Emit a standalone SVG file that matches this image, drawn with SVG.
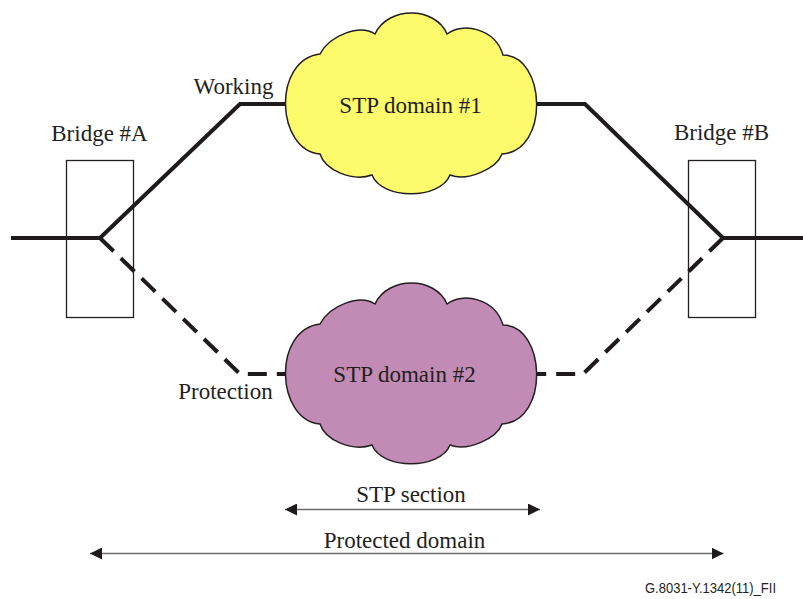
<svg xmlns="http://www.w3.org/2000/svg" width="803" height="599" viewBox="0 0 803 599">
  <style>
    .lbl { font-family: "Liberation Serif", "Times New Roman", serif; font-size: 23px; fill: #231f20; }
    .tag { font-family: "Liberation Sans", Arial, sans-serif; font-size: 14px; fill: #231f20; }
    .path-solid { fill: none; stroke: #1f1b1c; stroke-width: 4; stroke-linejoin: miter; }
    .path-dash { fill: none; stroke: #1f1b1c; stroke-width: 4; stroke-dasharray: 19 10; }
    .bridge { fill: none; stroke: #231f20; stroke-width: 1.3; }
    .cloud { stroke: #231f20; stroke-width: 1.5; }
    .span { stroke: #6d6d6d; stroke-width: 1.3; fill: none; }
  </style>
  <defs>
    <!-- cloud outline drawn at the lower (protection) position -->
    <path id="cloudShape" d="M320,324 C330,305 360,294 375,304 C388,276 435,276 447,304 C462,292 495,298 503,325 C546,325 550,421 502,424 C497,438 468,452 450,445 C440,470 382,470 372,445 C352,452 325,440 320,424 C276,420 272,330 320,324 Z"/>
    <marker id="arrowHead" viewBox="0 0 12 12" refX="12" refY="6" markerWidth="12" markerHeight="12" markerUnits="userSpaceOnUse" orient="auto-start-reverse">
      <path d="M0,0 L12,6 L0,12 Z" fill="#1f1b1c"/>
    </marker>
  </defs>

  <rect width="803" height="599" fill="#ffffff"/>

  <!-- connectors -->
  <g id="connectors">
    <path class="path-solid" d="M11,238 L100,238 L240,104 L290,104"/>
    <path class="path-solid" d="M532,104 L585,104 L723,238 L803,238"/>
    <path class="path-dash" d="M100,238 L240,374 L292,374"/>
    <path class="path-dash" d="M723,238 L583,374 L532,374"/>
  </g>

  <g id="bridgeA">
    <rect class="bridge" x="66.5" y="160.5" width="67" height="157"/>
    <text class="lbl" x="99.5" y="141" text-anchor="middle">Bridge #A</text>
  </g>

  <g id="bridgeB">
    <rect class="bridge" x="688.5" y="160.5" width="67" height="157"/>
    <text class="lbl" x="721.5" y="140" text-anchor="middle">Bridge #B</text>
  </g>

  <g id="stpDomain1">
    <use href="#cloudShape" class="cloud" fill="#fdfb6c" transform="translate(0,-270)"/>
    <text class="lbl" x="410.5" y="113" text-anchor="middle">STP domain #1</text>
  </g>

  <g id="stpDomain2">
    <use href="#cloudShape" class="cloud" fill="#c28bb5"/>
    <text class="lbl" x="404.5" y="382" text-anchor="middle">STP domain #2</text>
  </g>

  <g id="pathLabels">
    <text class="lbl" x="233.5" y="94" text-anchor="middle">Working</text>
    <text class="lbl" x="225.5" y="399" text-anchor="middle">Protection</text>
  </g>

  <g id="stpSection">
    <line class="span" x1="285" y1="509.5" x2="540" y2="509.5" marker-start="url(#arrowHead)" marker-end="url(#arrowHead)"/>
    <text class="lbl" x="411" y="502" text-anchor="middle">STP section</text>
  </g>

  <g id="protectedDomain">
    <line class="span" x1="90" y1="553.5" x2="723.5" y2="553.5" marker-start="url(#arrowHead)" marker-end="url(#arrowHead)"/>
    <text class="lbl" x="404.5" y="548" text-anchor="middle">Protected domain</text>
  </g>

  <text class="tag" x="776" y="593" text-anchor="end" textLength="131" lengthAdjust="spacingAndGlyphs">G.8031-Y.1342(11)_FII</text>
</svg>
